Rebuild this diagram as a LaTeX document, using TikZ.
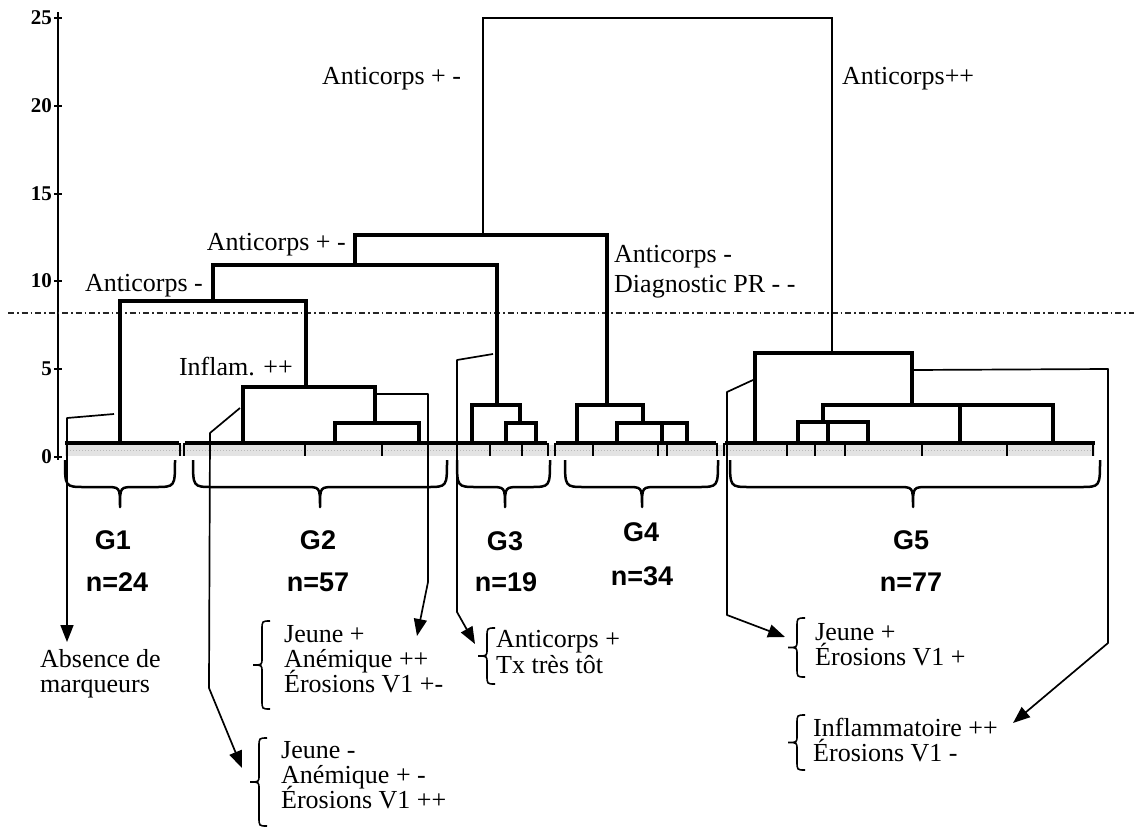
\documentclass[tikz,border=0pt]{standalone}
\usepackage{fontspec}
\setmainfont{Liberation Serif}
\newfontfamily\gfont{Liberation Sans}
\usetikzlibrary{arrows.meta}
\tikzset{
  dend/.style={line width=3.2pt, line join=miter},
  topdend/.style={line width=2.4pt, line join=miter},
  conn/.style={line width=1.7pt, line join=round},
  arr/.style={conn, -{Triangle[length=17pt,width=13pt]}},
  gbr/.style={line width=2.5pt, line join=round},
  lbr/.style={line width=1.6pt},
  lbl/.style={font=\fontsize{26}{25}\selectfont, inner sep=0pt},
  gl/.style={font=\gfont\bfseries\fontsize{27}{27}\selectfont, inner sep=0pt},
  ax/.style={font=\bfseries\fontsize{21}{21}\selectfont, inner sep=0pt, anchor=east},
  tickmark/.style={line width=2.6pt},
  cut/.style={line width=1.5pt, dash pattern=on 6pt off 3pt on 1.5pt off 3pt, black!85}
}
\newcommand\grpbrace[3]{% left, right, tip x
  \draw[gbr] (#1,460) .. controls (#1,487) .. ({#1+20},487) -- ({#3-15},487)
    .. controls (#3,487) .. (#3,507) .. controls (#3,487) .. ({#3+15},487)
    -- ({#2-20},487) .. controls (#2,487) .. (#2,460);}
\newcommand\listbrace[3]{% x tip, y top, y bottom
  \draw[lbr] ({#1+17},#2) .. controls ({#1+9},#2) .. ({#1+9},{#2+9})
    -- ({#1+9},{(#2+#3)/2-7}) .. controls ({#1+9},{(#2+#3)/2}) .. (#1,{(#2+#3)/2})
    .. controls ({#1+9},{(#2+#3)/2}) .. ({#1+9},{(#2+#3)/2+7})
    -- ({#1+9},{#3-9}) .. controls ({#1+9},#3) .. ({#1+17},#3);}
\begin{document}
\begin{tikzpicture}[x=1pt,y=-1pt]
\useasboundingbox (0,0) rectangle (1134,830);
\fill[white] (0,0) rectangle (1134,830);

% y axis
\draw[line width=2.5pt] (58,12) -- (58,460);
\foreach \v/\yy in {25/18,20/106,15/194,10/281,5/369,0/457}{
  \draw[line width=1.5pt] (54,\yy) -- (62,\yy);
  \node[ax] (ax\v) at (52,\yy) {\v};
}

% cut line
\draw[cut] (8,313) -- (1134,313);

% leaf band
\fill[gray!22] (65,445) rectangle (1095,456);
\draw[gray!55, line width=1pt, dash pattern=on 1pt off 2pt] (67,450) -- (1093,450);
\draw[dend] (65,443) -- (179,443);
\draw[dend] (185,443) -- (547,443);
\draw[dend] (556,443) -- (716,443);
\draw[dend] (725,443) -- (1095,443);
\foreach \t in {180,184,305,382,457,490,522,548,555,593,658,667,717,724,787,815,845,922,1007,1093}{
  \draw[tickmark] (\t,443) -- (\t,456);
}

% dendrogram
\draw[topdend] (483,235) |- (832,18) -- (832,353);
\draw[dend] (355,265) |- (607,235) -- (607,405);
\draw[dend] (213,301) |- (497,265) -- (497,405);
\draw[dend] (120,443) |- (306,301) -- (306,387);
\draw[dend] (243,443) |- (375,387) -- (375,423);
\draw[dend] (335,443) |- (419,423) -- (419,443);
\draw[dend] (472,443) |- (520,405) -- (520,423);
\draw[dend] (506,443) |- (536,423) -- (536,443);
\draw[dend] (577,443) |- (643,405) -- (643,423);
\draw[dend] (617,443) |- (687,423) -- (687,443);
\draw[dend] (662,423) -- (662,443);
\draw[dend] (755,443) |- (912,353) -- (912,405);
\draw[dend] (823,422) |- (1053,405) -- (1053,443);
\draw[dend] (960,405) -- (960,443);
\draw[dend] (798,443) |- (868,422) -- (868,443);
\draw[dend] (828,422) -- (828,443);

% branch labels
\node[lbl, anchor=base west] (a1) at (322,84) {Anticorps + -};
\node[lbl, anchor=base west] (a2) at (842,84) {Anticorps++};
\node[lbl, anchor=base east] (a3) at (346,250) {Anticorps + -};
\node[lbl, anchor=base west] (a4) at (614,262) {Anticorps -};
\node[lbl, anchor=base west] (a5) at (614,292) {Diagnostic PR - -};
\node[lbl, anchor=base east] (a6) at (203,291) {Anticorps -};
\node[lbl, anchor=base east] (a7) at (293,375) {Inflam. ++};

% group braces
\grpbrace{65}{175}{120}
\grpbrace{193}{447}{320}
\grpbrace{457}{550}{505}
\grpbrace{565}{718}{642}
\grpbrace{730}{1100}{913}

% group labels
\node[gl] (g1) at (113,540) {G1};
\node[gl] (n1) at (117,582) {n=24};
\node[gl] (g2) at (318,540) {G2};
\node[gl] (n2) at (318,582) {n=57};
\node[gl] (g3) at (505,541) {G3};
\node[gl] (n3) at (506,582) {n=19};
\node[gl] (g4) at (641,532) {G4};
\node[gl] (n4) at (642,576) {n=34};
\node[gl] (g5) at (911,540) {G5};
\node[gl] (n5) at (911,582) {n=77};

% descriptions
\node[lbl, anchor=base west] (d1a) at (40,667) {Absence de};
\node[lbl, anchor=base west] (d1b) at (40,692) {marqueurs};

\listbrace{253}{621}{709}
\node[lbl, anchor=base west] (d2a) at (284,642) {Jeune +};
\node[lbl, anchor=base west] (d2b) at (284,667) {Anémique ++};
\node[lbl, anchor=base west] (d2c) at (284,692) {Érosions V1 +-};

\listbrace{250}{738}{826}
\node[lbl, anchor=base west] (d3a) at (281,758) {Jeune -};
\node[lbl, anchor=base west] (d3b) at (281,783) {Anémique + -};
\node[lbl, anchor=base west] (d3c) at (281,808) {Érosions V1 ++};

\listbrace{478}{628}{684}
\node[lbl, anchor=base west] (d4a) at (496,647) {Anticorps +};
\node[lbl, anchor=base west] (d4b) at (496,673) {Tx très tôt};

\listbrace{788}{618}{677}
\node[lbl, anchor=base west] (d5a) at (815,640) {Jeune +};
\node[lbl, anchor=base west] (d5b) at (815,665) {Érosions V1 +};

\listbrace{788}{715}{770}
\node[lbl, anchor=base west] (d6a) at (813,736) {Inflammatoire ++};
\node[lbl, anchor=base west] (d6b) at (813,761) {Érosions V1 -};

% connectors
\coordinate (c1s) at (114,414); \coordinate (c1t) at (67,642);
\draw[arr] (c1s) -- (67,418) -- (c1t);
\coordinate (c2s) at (240,408); \coordinate (c2t) at (242,768);
\draw[arr] (c2s) -- (210,433) -- (209,688) -- (c2t);
\coordinate (c3s) at (375,394); \coordinate (c3t) at (417,636);
\draw[arr] (c3s) -- (428,394) -- (428,582) -- (c3t);
\coordinate (c4s) at (493,354); \coordinate (c4t) at (475,644);
\draw[arr] (c4s) -- (457,360) -- (457,612) -- (c4t);
\coordinate (c5s) at (753,380); \coordinate (c5t) at (785,637);
\draw[arr] (c5s) -- (727,392) -- (727,615) -- (c5t);
\coordinate (c6s) at (912,370); \coordinate (c6t) at (1013,723);
\draw[arr] (c6s) -- (1108,369) -- (1108,643) -- (c6t);
\end{tikzpicture}
\end{document}
